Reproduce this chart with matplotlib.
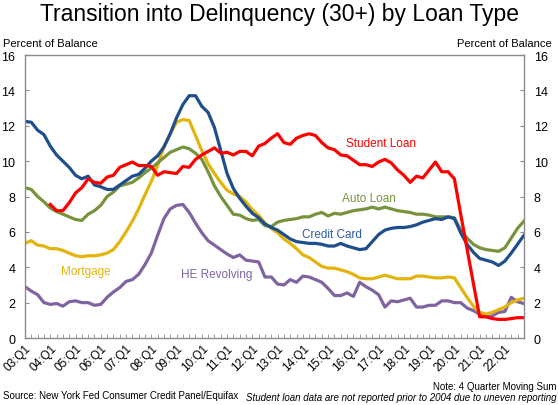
import numpy as np
import matplotlib
matplotlib.use("Agg")
import matplotlib.pyplot as plt

plt.rcParams['font.family'] = ['Liberation Sans', 'DejaVu Sans']

# quarterly data, 2003Q1 .. 2022Q4 (4 quarter moving sum, percent of balance)
quarters = np.arange(80)
year_labels = ['%02d:Q1' % y for y in range(3, 23)]

credit_card = [12.25, 12.2, 11.75, 11.5, 10.85, 10.35, 10.0, 9.65, 9.2, 9.0,
               9.15, 8.65, 8.55, 8.4, 8.4, 8.65, 8.9, 9.15, 9.25, 9.6,
               10.0, 10.3, 10.8, 11.55, 12.45, 13.2, 13.7, 13.7, 13.1, 12.75,
               11.9, 10.6, 9.3, 8.45, 7.9, 7.45, 7.05, 6.8, 6.45, 6.25,
               6.1, 5.85, 5.6, 5.45, 5.4, 5.35, 5.35, 5.3, 5.2, 5.2,
               5.35, 5.2, 5.1, 5.0, 5.05, 5.45, 5.85, 6.1, 6.2, 6.25,
               6.25, 6.3, 6.4, 6.55, 6.65, 6.75, 6.7, 6.85, 6.75, 5.95,
               5.3, 4.85, 4.5, 4.4, 4.3, 4.1, 4.35, 4.8, 5.3, 5.8]

auto_loan = [8.5, 8.4, 8.0, 7.7, 7.35, 7.15, 7.0, 6.85, 6.7, 6.65,
             7.0, 7.2, 7.5, 8.0, 8.25, 8.6, 8.7, 8.8, 9.05, 9.35,
             9.6, 9.9, 10.2, 10.5, 10.65, 10.8, 10.7, 10.45, 10.1, 9.4,
             8.6, 8.0, 7.5, 7.0, 6.95, 6.75, 6.65, 6.7, 6.35, 6.3,
             6.55, 6.65, 6.7, 6.75, 6.85, 6.85, 7.0, 7.1, 6.9, 7.05,
             7.0, 7.1, 7.2, 7.25, 7.3, 7.4, 7.3, 7.4, 7.3, 7.2,
             7.15, 7.1, 7.0, 7.0, 6.95, 6.85, 6.85, 6.85, 6.8, 6.1,
             5.65, 5.3, 5.1, 5.0, 4.95, 4.9, 5.1, 5.65, 6.2, 6.6]

# student loan not reported before 2004
student_loan = [np.nan, np.nan, np.nan, np.nan, 7.55, 7.2, 7.2, 7.65, 8.2, 8.5,
                9.0, 8.8, 8.75, 9.1, 9.2, 9.65, 9.8, 9.95, 9.75, 9.75,
                9.7, 9.2, 9.4, 9.35, 9.3, 9.7, 9.65, 10.1, 10.35, 10.55,
                10.75, 10.45, 10.5, 10.35, 10.55, 10.55, 10.3, 10.85, 11.0, 11.3,
                11.55, 11.05, 10.95, 11.3, 11.45, 11.55, 11.45, 11.05, 10.75, 10.65,
                10.35, 10.3, 10.05, 9.8, 9.8, 9.7, 9.95, 10.1, 9.9, 9.5,
                9.2, 8.8, 9.15, 9.05, 9.5, 9.95, 9.4, 9.4, 9.0, 7.0,
                5.05, 3.1, 1.2, 1.2, 1.1, 1.05, 1.05, 1.1, 1.15, 1.15]

mortgage = [5.35, 5.5, 5.25, 5.2, 5.05, 5.05, 4.95, 4.8, 4.65, 4.6,
            4.65, 4.65, 4.7, 4.8, 5.0, 5.45, 6.0, 6.6, 7.3, 8.1,
            8.85, 9.75, 10.8, 11.55, 12.2, 12.35, 12.3, 11.45, 10.6, 9.85,
            9.3, 8.8, 8.35, 8.15, 8.0, 7.7, 7.25, 6.95, 6.5, 6.2,
            5.95, 5.6, 5.35, 5.05, 4.7, 4.55, 4.3, 4.05, 3.95, 3.95,
            3.85, 3.75, 3.6, 3.4, 3.35, 3.35, 3.45, 3.55, 3.45, 3.35,
            3.35, 3.35, 3.5, 3.5, 3.45, 3.4, 3.4, 3.45, 3.4, 2.85,
            2.3, 1.8, 1.45, 1.35, 1.45, 1.6, 1.75, 2.0, 2.15, 2.25]

he_revolving = [2.9, 2.65, 2.45, 2.0, 1.9, 1.95, 1.8, 2.05, 2.1, 2.0,
                2.0, 1.85, 1.9, 2.3, 2.6, 2.85, 3.2, 3.3, 3.6, 4.15,
                4.8, 5.8, 6.75, 7.3, 7.5, 7.55, 7.1, 6.5, 5.95, 5.5,
                5.25, 5.0, 4.75, 4.55, 4.7, 4.4, 4.35, 4.3, 3.45, 3.45,
                3.05, 3.0, 3.3, 3.15, 3.5, 3.45, 3.3, 3.15, 2.8, 2.4,
                2.4, 2.55, 2.35, 3.15, 2.9, 2.7, 2.45, 1.75, 2.1, 2.05,
                2.15, 2.25, 1.75, 1.75, 1.85, 1.85, 2.1, 2.1, 2.0, 2.0,
                1.7, 1.55, 1.35, 1.2, 1.25, 1.45, 1.5, 2.3, 2.05, 1.95]

RED = '#FF0000'
BLUE = '#1F4E8C'
GREEN = '#77933C'
GOLD = '#E2B40C'
PURPLE = '#8064A2'
FRAME = '#8C8C8C'

fig = plt.figure(figsize=(5.58, 4.06), dpi=100)
ax = fig.add_axes([0.0448, 0.165, 0.894, 0.697])

lw = 2.3
ax.plot(quarters, he_revolving, color=PURPLE, lw=lw)
ax.plot(quarters, mortgage, color=GOLD, lw=lw)
ax.plot(quarters, auto_loan, color=GREEN, lw=lw)
ax.plot(quarters, credit_card, color=BLUE, lw=lw)
ax.plot(quarters, student_loan, color=RED, lw=lw)

# series labels
ax.text(56.3, 11.05, 'Student Loan', color=RED, fontsize=8.5, ha='center', va='center')
ax.text(54.4, 7.9, 'Auto Loan', color=GREEN, fontsize=8.5, ha='center', va='center')
ax.text(48.6, 5.9, 'Credit Card', color='#2E5E9E', fontsize=8.5, ha='center', va='center')
ax.text(9.6, 3.77, 'Mortgage', color=GOLD, fontsize=8.5, ha='center', va='center')
ax.text(30.4, 3.6, 'HE Revolving', color=PURPLE, fontsize=8.5, ha='center', va='center')

ax.set_xlim(0, 79)
ax.set_ylim(0, 16)
ax.set_yticks(np.arange(0, 17, 2))
ax.set_xticks(quarters[::4])
ax.set_xticklabels(year_labels, rotation=45, ha='right', rotation_mode='anchor')
ax.set_xticks(quarters, minor=True)

ax.tick_params(axis='y', which='both', direction='in', length=3, width=0.8,
               color=FRAME, left=True, right=True, labelleft=True, labelright=True,
               labelsize=9, pad=7)
ax.tick_params(axis='x', which='both', direction='in', length=3, width=0.6,
               color=FRAME, labelsize=8.5, pad=3)

for s in ax.spines.values():
    s.set_color(FRAME)
    s.set_linewidth(1.0)

fig.text(0.5, 0.948, 'Transition into Delinquency (30+) by Loan Type',
         ha='center', va='baseline', fontsize=16.5)
fig.text(0.006, 0.884, 'Percent of Balance', ha='left', va='baseline', fontsize=8)
fig.text(0.988, 0.884, 'Percent of Balance', ha='right', va='baseline', fontsize=8)

fig.text(0.006, 0.017, 'Source: New York Fed Consumer Credit Panel/Equifax',
         ha='left', va='baseline', fontsize=7)
fig.text(0.997, 0.04, 'Note: 4 Quarter Moving Sum', ha='right', va='baseline', fontsize=7)
fig.text(0.997, 0.012, 'Student loan data are not reported prior to 2004 due to uneven reporting',
         ha='right', va='baseline', fontsize=7, style='italic')

fig.savefig('out.png', dpi=100)
